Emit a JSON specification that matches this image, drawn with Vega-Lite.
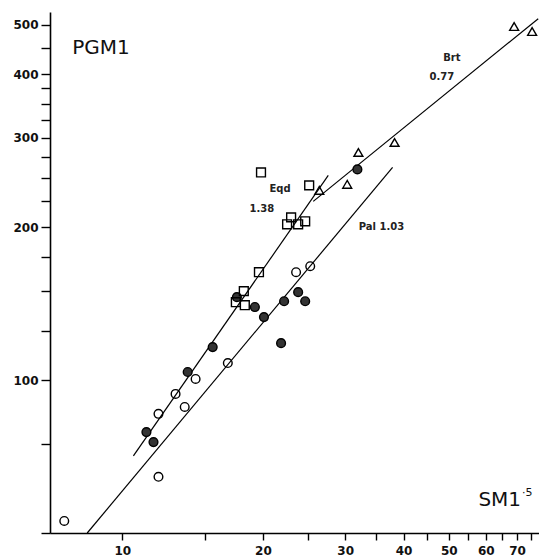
{
  "$schema": "https://vega.github.io/schema/vega-lite/v6.json",
  "width": 489,
  "height": 521,
  "autosize": {"type": "none"},
  "padding": {"left": 50, "top": 12, "right": 0, "bottom": 26},
  "background": "white",
  "config": {"view": {"stroke": null}, "font": "DejaVu Sans"},
  "datasets": {
    "points": [
      {"group": "open", "sm": 7.51, "pgm": 52.8},
      {"group": "open", "sm": 11.95, "pgm": 64.5},
      {"group": "open", "sm": 11.95, "pgm": 85.8},
      {"group": "open", "sm": 13.0, "pgm": 93.9},
      {"group": "open", "sm": 13.6, "pgm": 88.5},
      {"group": "open", "sm": 14.35, "pgm": 100.5},
      {"group": "open", "sm": 16.82, "pgm": 108.0},
      {"group": "open", "sm": 23.55, "pgm": 163.0},
      {"group": "open", "sm": 25.25, "pgm": 167.5},
      {"group": "filled", "sm": 11.26, "pgm": 79.0},
      {"group": "filled", "sm": 11.66, "pgm": 75.5},
      {"group": "filled", "sm": 13.8, "pgm": 103.7},
      {"group": "filled", "sm": 15.61, "pgm": 116.1},
      {"group": "filled", "sm": 17.59, "pgm": 145.6},
      {"group": "filled", "sm": 19.22, "pgm": 139.2},
      {"group": "filled", "sm": 20.1, "pgm": 133.0},
      {"group": "filled", "sm": 21.87, "pgm": 118.2},
      {"group": "filled", "sm": 22.2, "pgm": 142.9},
      {"group": "filled", "sm": 23.79, "pgm": 148.9},
      {"group": "filled", "sm": 24.63, "pgm": 142.9},
      {"group": "filled", "sm": 31.86, "pgm": 259.7},
      {"group": "square", "sm": 19.81, "pgm": 256.2},
      {"group": "square", "sm": 25.12, "pgm": 241.6},
      {"group": "square", "sm": 22.98, "pgm": 209.0},
      {"group": "square", "sm": 22.53, "pgm": 202.5},
      {"group": "square", "sm": 23.79, "pgm": 202.5},
      {"group": "square", "sm": 24.63, "pgm": 205.3},
      {"group": "square", "sm": 19.61, "pgm": 163.0},
      {"group": "square", "sm": 18.2, "pgm": 149.6},
      {"group": "square", "sm": 17.5, "pgm": 142.3},
      {"group": "square", "sm": 18.29, "pgm": 140.4},
      {"group": "triangle", "sm": 69.0, "pgm": 496.2},
      {"group": "triangle", "sm": 75.4, "pgm": 485.1},
      {"group": "triangle", "sm": 38.27, "pgm": 293.5},
      {"group": "triangle", "sm": 32.02, "pgm": 280.5},
      {"group": "triangle", "sm": 30.3, "pgm": 242.7},
      {"group": "triangle", "sm": 26.4, "pgm": 236.2}
    ],
    "lines": [
      {"fit": "Brt", "sm": 25.63, "pgm": 224.7},
      {"fit": "Brt", "sm": 77.7, "pgm": 514.2},
      {"fit": "Eqd", "sm": 10.56, "pgm": 70.9},
      {"fit": "Eqd", "sm": 27.6, "pgm": 252.8},
      {"fit": "Pal", "sm": 8.41, "pgm": 50.0},
      {"fit": "Pal", "sm": 37.9, "pgm": 262.1}
    ],
    "smallLabels": [
      {"text": "Brt", "sm": 50.75, "pgm": 431.1},
      {"text": "0.77", "sm": 48.3, "pgm": 395.5},
      {"text": "Eqd", "sm": 21.76, "pgm": 237.3},
      {"text": "1.38", "sm": 19.9, "pgm": 216.8},
      {"text": "Pal 1.03", "sm": 35.87, "pgm": 199.8}
    ]
  },
  "encoding": {
    "x": {
      "field": "sm", "type": "quantitative",
      "scale": {"type": "log", "domain": [7, 78], "nice": false},
      "axis": {
        "title": null,
        "values": [10, 15, 20, 25, 30, 35, 40, 45, 50, 55, 60, 65, 70, 75],
        "labelExpr": "datum.value % 10 == 0 ? '' + datum.value : ''",
        "grid": false,
        "domainColor": "black", "domainWidth": 1.6,
        "tickColor": "black", "tickWidth": 1.4, "tickSize": 7,
        "labelColor": "#111", "labelFontSize": 12, "labelFontWeight": "bold", "labelPadding": 5,
        "labelFont": "DejaVu Sans", "labelFlush": false
      }
    },
    "y": {
      "field": "pgm", "type": "quantitative",
      "scale": {"type": "log", "domain": [50, 530], "nice": false},
      "axis": {
        "title": null,
        "values": [50, 75, 100, 125, 150, 175, 200, 225, 250, 275, 300, 325, 350, 375, 400, 450, 500],
        "labelExpr": "datum.value % 100 == 0 ? '' + datum.value : ''",
        "grid": false,
        "domainColor": "black", "domainWidth": 1.6,
        "tickColor": "black", "tickWidth": 1.4, "tickSize": 9,
        "labelColor": "#111", "labelFontSize": 12, "labelFontWeight": "bold", "labelPadding": 3,
        "labelFont": "DejaVu Sans", "labelFlush": false
      }
    }
  },
  "layer": [
    {
      "data": {"name": "lines"},
      "mark": {"type": "line", "color": "black", "strokeWidth": 1.2},
      "encoding": {"detail": {"field": "fit"}}
    },
    {
      "data": {"name": "points"},
      "mark": {"type": "point", "filled": true, "stroke": "black", "strokeWidth": 1.4, "opacity": 1},
      "encoding": {
        "shape": {
          "field": "group", "type": "nominal", "legend": null,
          "scale": {"domain": ["open", "filled", "square", "triangle"], "range": ["circle", "circle", "square", "triangle-up"]}
        },
        "fill": {
          "field": "group", "type": "nominal", "legend": null,
          "scale": {"domain": ["open", "filled", "square", "triangle"], "range": ["transparent", "#333333", "transparent", "transparent"]}
        },
        "size": {
          "field": "group", "type": "nominal", "legend": null,
          "scale": {"domain": ["open", "filled", "square", "triangle"], "range": [75, 80, 100, 90]}
        }
      }
    },
    {
      "data": {"name": "smallLabels"},
      "mark": {"type": "text", "fontSize": 10, "fontWeight": "bold", "color": "#222", "align": "center", "baseline": "middle"},
      "encoding": {"text": {"field": "text"}}
    },
    {
      "data": {"values": [{"text": "PGM1", "sm": 7.81, "pgm": 451}]},
      "mark": {"type": "text", "fontSize": 20, "font": "DejaVu Sans", "color": "#111", "align": "left", "baseline": "middle"},
      "encoding": {"text": {"field": "text"}}
    },
    {
      "data": {"values": [{"text": "SM1", "sm": 71.4, "pgm": 58.1}]},
      "mark": {"type": "text", "fontSize": 20, "font": "DejaVu Sans", "color": "#111", "align": "right", "baseline": "middle"},
      "encoding": {"text": {"field": "text"}}
    },
    {
      "data": {"values": [{"text": "·5", "sm": 71.4, "pgm": 58.1}]},
      "mark": {"type": "text", "fontSize": 11, "font": "DejaVu Sans", "color": "#111", "align": "left", "baseline": "middle", "dx": 1, "dy": -7},
      "encoding": {"text": {"field": "text"}}
    }
  ]
}
